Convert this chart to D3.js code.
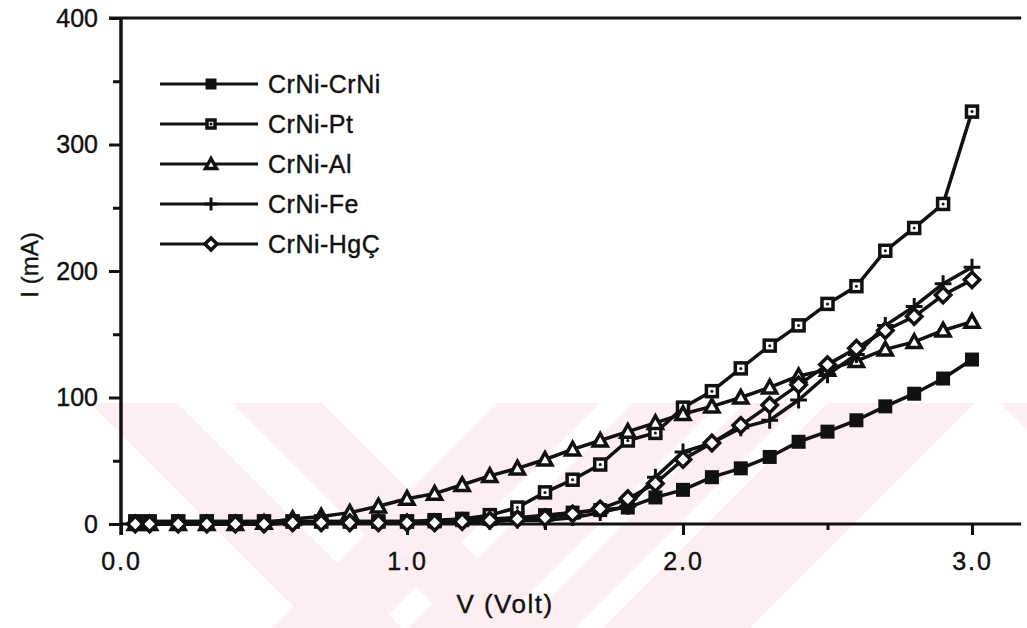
<!DOCTYPE html>
<html>
<head>
<meta charset="utf-8">
<script src="https://cdn.jsdelivr.net/npm/d3@7"></script>
<style>
  body { margin: 0; background: #fff; }
  svg text { font-family: "Liberation Sans", Arial, sans-serif; fill: #111; stroke: #111; stroke-width: 0.4px; }
</style>
</head>
<body>
<div id="chart"></div>
<script>
// voltage steps (V) and currents (mA)
var volts = [0.05, 0.1, 0.2, 0.3, 0.4, 0.5, 0.6, 0.7, 0.8, 0.9, 1.0, 1.1, 1.2, 1.3, 1.4, 1.5,
             1.6, 1.7, 1.8, 1.9, 2.0, 2.1, 2.2, 2.3, 2.4, 2.5, 2.6, 2.7, 2.8, 2.9, 3.0];
var crniCrni = [2, 2, 2, 2, 2, 2, 2, 2, 2, 2, 2, 2, 3, 4, 5, 7, 9, 11, 13, 21, 27, 37, 44, 53, 65, 73, 82, 93, 103, 115, 130];
var crniPt   = [2, 2, 2, 2, 2, 2, 2, 2, 2, 2, 2, 3, 4, 7, 13, 25, 35, 47, 66, 72, 92, 105, 123, 141, 157, 174, 188, 216, 234, 253, 326];
var crniAl   = [0, 0, 0, 0, 0, 1, 4, 6, 9, 14, 20, 24, 31, 38, 44, 51, 59, 66, 73, 80, 87, 93, 100, 108, 117, 122, 129, 138, 144, 153, 160];
var crniFe   = [0, 0, 0, 0, 0, 0, 1, 1, 1, 1, 1, 1, 2, 2, 3, 3, 5, 9, 14, 37, 57, 64, 76, 82, 98, 118, 134, 157, 172, 190, 203];
var crniHg   = [0, 0, 0, 0, 0, 0, 1, 1, 1, 1, 1, 1, 2, 3, 4, 5, 8, 12, 20, 32, 51, 64, 78, 94, 110, 126, 139, 153, 164, 181, 193];

var seriesNames = ['CrNi-CrNi', 'CrNi-Pt', 'CrNi-Al', 'CrNi-Fe', 'CrNi-HgÇ'];
var seriesValues = [crniCrni, crniPt, crniAl, crniFe, crniHg];
var seriesMarks = ['filled', 'square', 'triangle', 'plus', 'diamond'];

var xMajor = [0, 1, 2, 3];
var xMinor = [0.5, 1.5, 2.5];
var yMajor = [0, 100, 200, 300, 400];
var yMinor = [50, 150, 250, 350];

var ink = '#111';

var svg = d3.select('#chart')
    .append('svg')
    .attr('width', 1027)
    .attr('height', 628);

// faint pink watermark behind the plot
var wm = svg.append('g').attr('fill', '#fdeef1');
var bands = [
    [[90, 403], [177, 403], [402, 628], [315, 628]],
    [[232, 403], [322, 403], [547, 628], [457, 628]],
    [[497, 403], [600, 403], [375, 628], [272, 628]],
    [[633, 403], [720, 403], [495, 628], [408, 628]],
    [[745, 403], [800, 403], [575, 628], [520, 628]],
    [[828, 403], [975, 403], [750, 628], [603, 628]],
    [[1000, 403], [1027, 403], [1027, 430]]
];
bands.forEach(function(b) {
    wm.append('polygon').attr('points', b.map(function(p) { return p.join(','); }).join(' '));
});

var x = d3.scaleLinear().domain([0, 1, 2, 3]).range([121, 407, 683, 972]);
var y = d3.scaleLinear().domain([0, 400]).range([524, 18]);

// axes
var xAxis = svg.append('g')
    .attr('transform', 'translate(0,' + y(0) + ')')
    .call(d3.axisBottom(x).tickValues(xMajor).tickSize(11).tickPadding(17)
        .tickFormat(d3.format('.1f')));
svg.append('g')
    .attr('transform', 'translate(0,' + y(0) + ')')
    .call(d3.axisBottom(x).tickValues(xMinor).tickSize(6).tickFormat(''));
var yAxis = svg.append('g')
    .attr('transform', 'translate(' + x(0) + ',0)')
    .call(d3.axisLeft(y).tickValues(yMajor).tickSize(12).tickPadding(11));
svg.append('g')
    .attr('transform', 'translate(' + x(0) + ',0)')
    .call(d3.axisLeft(y).tickValues(yMinor).tickSize(8).tickFormat(''));

svg.selectAll('.domain').remove();
svg.selectAll('.tick line').attr('stroke', ink).attr('stroke-width', 3);
svg.selectAll('.tick text').attr('font-size', 25).attr('fill', ink);
xAxis.selectAll('.tick text').attr('letter-spacing', 2);

svg.append('line')
    .attr('x1', x(0)).attr('x2', x(3.17))
    .attr('y1', y(0)).attr('y2', y(0))
    .attr('stroke', ink).attr('stroke-width', 3);
svg.append('line')
    .attr('x1', x(0)).attr('x2', x(0))
    .attr('y1', y(400)).attr('y2', y(0) + 11)
    .attr('stroke', ink).attr('stroke-width', 3.5);
svg.append('line')
    .attr('x1', x(0) - 12).attr('x2', x(3.17))
    .attr('y1', y(400)).attr('y2', y(400))
    .attr('stroke', ink).attr('stroke-width', 3);

svg.append('text')
    .text('V (Volt)')
    .attr('x', 505).attr('y', 613)
    .attr('text-anchor', 'middle')
    .attr('font-size', 26)
    .attr('letter-spacing', 1.5);
svg.append('text')
    .text('I  (mA)')
    .attr('transform', 'translate(38,265) rotate(-90)')
    .attr('text-anchor', 'middle')
    .attr('font-size', 24);

function drawMark(g, kind, s) {
    if (kind == 'filled') {
        g.append('rect').attr('x', -s / 2).attr('y', -s / 2).attr('width', s).attr('height', s)
            .attr('fill', ink);
    } else if (kind == 'square') {
        g.append('rect').attr('x', -s / 2 + 1.5).attr('y', -s / 2 + 1.5)
            .attr('width', s - 3).attr('height', s - 3)
            .attr('fill', '#fff').attr('stroke', ink).attr('stroke-width', 3.5);
        g.append('circle').attr('r', 1.5).attr('fill', ink);
    } else if (kind == 'triangle') {
        var h = s * 0.5;
        g.append('path').attr('d', 'M0,' + (-h) + 'L' + h + ',' + (h * 0.8) + 'L' + (-h) + ',' + (h * 0.8) + 'Z')
            .attr('fill', '#fff').attr('stroke', ink).attr('stroke-width', 3.5);
    } else if (kind == 'plus') {
        var p = s * 0.6;
        g.append('path').attr('d', 'M' + (-p) + ',0H' + p + 'M0,' + (-p) + 'V' + p)
            .attr('stroke', ink).attr('stroke-width', 3);
    } else if (kind == 'diamond') {
        var d = s * 0.55;
        g.append('path').attr('d', 'M0,' + (-d) + 'L' + d + ',0L0,' + d + 'L' + (-d) + ',0Z')
            .attr('fill', '#fff').attr('stroke', ink).attr('stroke-width', 3.5);
    }
}

var line = d3.line()
    .x(function(d) { return x(d.v); })
    .y(function(d) { return y(d.i); });

seriesValues.forEach(function(vals, k) {
    var pts = volts.map(function(v, j) { return {v: v, i: vals[j]}; });
    svg.append('path')
        .datum(pts)
        .attr('d', line)
        .attr('fill', 'none')
        .attr('stroke', ink)
        .attr('stroke-width', 3.5)
        .attr('stroke-linejoin', 'round');
    svg.selectAll('.m' + k)
        .data(pts).enter()
        .append('g')
        .attr('class', 'm' + k)
        .attr('transform', function(d) { return 'translate(' + x(d.v) + ',' + y(d.i) + ')'; })
        .each(function() { drawMark(d3.select(this), seriesMarks[k], 14); });
});

// legend
var legend = svg.append('g');
seriesNames.forEach(function(name, k) {
    var ly = 84 + k * 40;
    legend.append('line')
        .attr('x1', 160).attr('x2', 258)
        .attr('y1', ly).attr('y2', ly)
        .attr('stroke', ink).attr('stroke-width', 3);
    drawMark(legend.append('g').attr('transform', 'translate(211,' + ly + ')'), seriesMarks[k], 11);
    legend.append('text')
        .text(name)
        .attr('x', 268).attr('y', ly + 9)
        .attr('font-size', 25)
        .attr('letter-spacing', 0.5);
});
</script>
</body>
</html>
